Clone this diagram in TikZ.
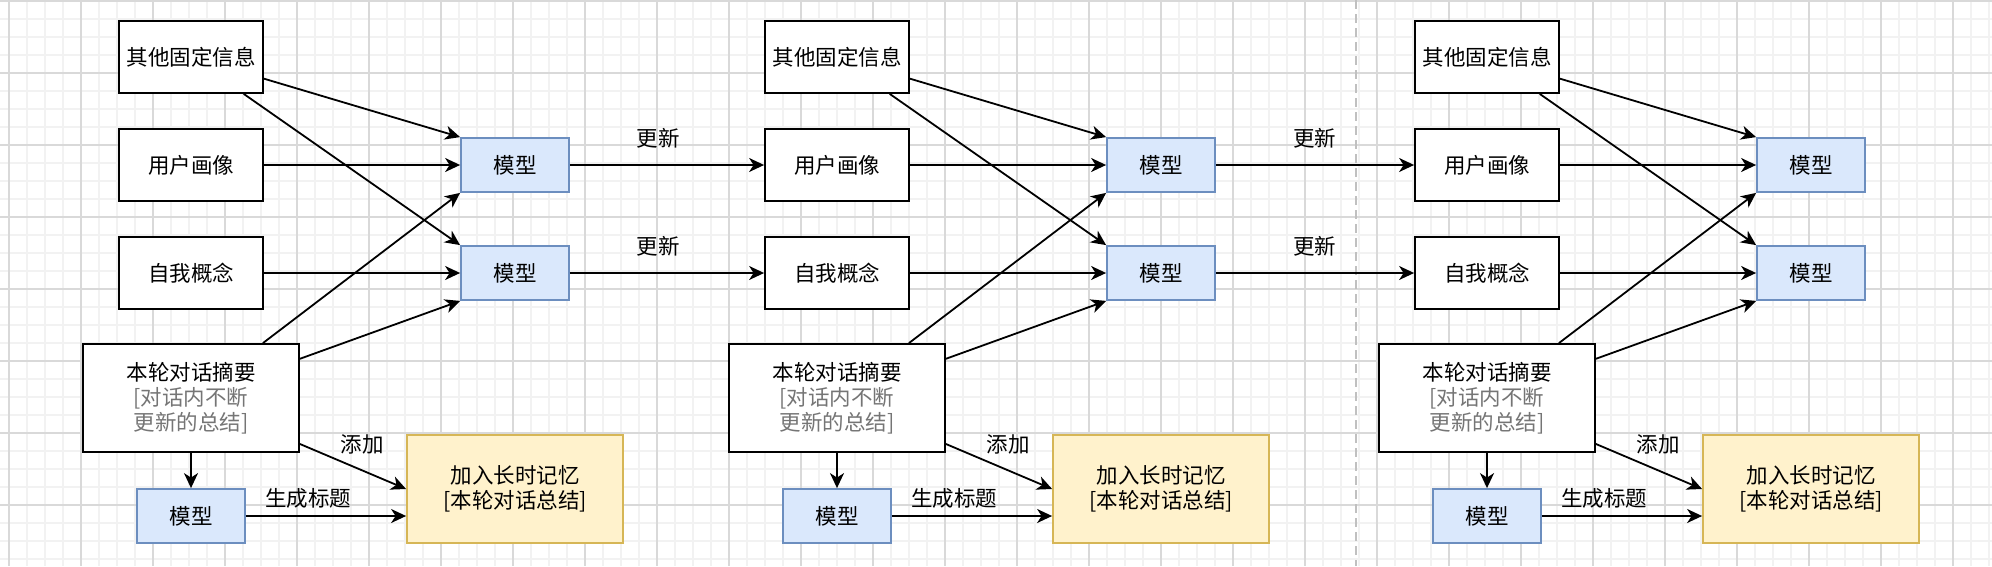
\documentclass[tikz,border=0pt]{standalone}
\usepackage{fontspec}
\setmainfont{Noto Sans CJK SC}
\usetikzlibrary{arrows.meta}
\definecolor{mfill}{HTML}{DAE8FC}
\definecolor{mdraw}{HTML}{6C8EBF}
\definecolor{yfill}{HTML}{FFF2CC}
\definecolor{ydraw}{HTML}{D6B656}
\definecolor{gtext}{HTML}{757575}
\definecolor{gridminor}{HTML}{F2F2F2}
\definecolor{gridmajor}{HTML}{D9D9D9}
\definecolor{sepline}{HTML}{C0C0C0}
\begin{document}
\begin{tikzpicture}[x=1pt,y=-1pt,
  font=\fontsize{21.5}{25}\selectfont,
  box/.style={draw=black, line width=1.8pt, fill=white, minimum width=144pt, minimum height=72pt, inner sep=0pt, align=center},
  bigbox/.style={box, minimum width=216pt, minimum height=108pt},
  model/.style={draw=mdraw, fill=mfill, line width=1.8pt, minimum width=108pt, minimum height=54pt, inner sep=0pt},
  memo/.style={draw=ydraw, fill=yfill, line width=1.8pt, minimum width=216pt, minimum height=108pt, inner sep=0pt, align=center},
  arr/.style={line width=1.8pt, -{Stealth[length=15pt,width=14pt,inset=4.5pt]}},
  lbl/.style={inner sep=0pt}
]
\useasboundingbox (0,0) rectangle (1992,566);
\fill[white] (0,0) rectangle (1992,566);
% grid
\foreach \x in {9,27,...,1991} \draw[gridminor, line width=1.5pt] (\x,0) -- (\x,566);
\foreach \y in {1,19,...,566} \draw[gridminor, line width=1.5pt] (0,\y) -- (1992,\y);
\foreach \x in {9,81,...,1991} \draw[gridmajor, line width=1.1pt] (\x,0) -- (\x,566);
\foreach \y in {1,73,...,566} \draw[gridmajor, line width=1.1pt] (0,\y) -- (1992,\y);
% separator
\draw[sepline, line width=1.8pt, dash pattern=on 9pt off 5pt] (1356,0) -- (1356,566);

\foreach \dx/\c in {0/1,646/2,1296/3} {
  \node[box] (A\c) at (191+\dx,57) {其他固定信息};
  \node[box] (B\c) at (191+\dx,165) {用户画像};
  \node[box] (C\c) at (191+\dx,273) {自我概念};
  \node[bigbox] (D\c) at (191+\dx,398) {本轮对话摘要\\\textcolor{gtext}{[对话内不断}\\\textcolor{gtext}{更新的总结]}};
  \node[model] (MA\c) at (515+\dx,165) {模型};
  \node[model] (MB\c) at (515+\dx,273) {模型};
  \node[model] (MC\c) at (191+\dx,516) {模型};
  \node[memo] (E\c) at (515+\dx,489) {加入长时记忆\\{[}本轮对话总结{]}};
  \draw[arr] (A\c) -- (MA\c.north west);
  \draw[arr] (A\c) -- (MB\c.north west);
  \draw[arr] (B\c) -- (MA\c);
  \draw[arr] (C\c) -- (MB\c);
  \draw[arr] (D\c) -- (MA\c.south west);
  \draw[arr] (D\c) -- (MB\c.south west);
  \draw[arr] (D\c) -- (MC\c);
  \draw[arr] (D\c) -- (E\c.west);
  \draw[arr] (MC\c) -- (MC\c -| E\c.west);
  \node[lbl] (add\c) at (362+\dx,444) {添加};
  \node[lbl] (title\c) at (308+\dx,498) {生成标题};
}
\draw[arr] (MA1) -- (B2);
\draw[arr] (MB1) -- (C2);
\draw[arr] (MA2) -- (B3);
\draw[arr] (MB2) -- (C3);
\node[lbl] (upa1) at (658,138) {更新};
\node[lbl] (upb1) at (658,246) {更新};
\node[lbl] (upa2) at (1314.5,138) {更新};
\node[lbl] (upb2) at (1314.5,246) {更新};
\end{tikzpicture}
\end{document}
